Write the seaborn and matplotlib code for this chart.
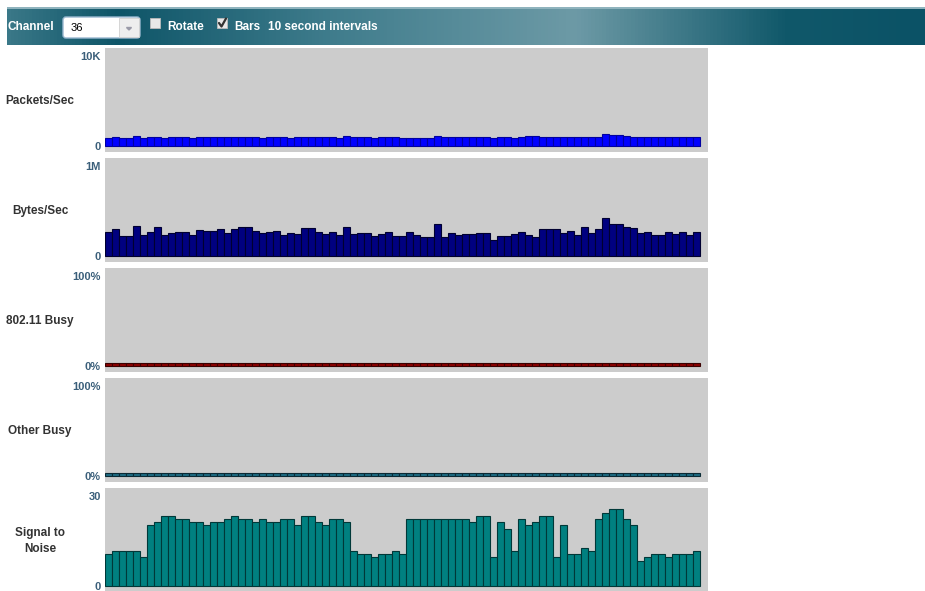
import numpy as np
import pandas as pd
import matplotlib
matplotlib.use("Agg")
import matplotlib.pyplot as plt
from matplotlib.colors import LinearSegmentedColormap
from matplotlib.patches import FancyBboxPatch, Rectangle
import seaborn as sns

# data, 85 ten-second intervals
packets = [900, 1050, 900, 900, 1150, 900, 1000, 1050, 900, 950,
           950, 950, 900, 1050, 950, 1050, 1050, 950, 1050, 1050,
           1050, 950, 900, 950, 1050, 950, 900, 950, 1050, 1050,
           950, 950, 950, 900, 1150, 950, 950, 950, 900, 1000,
           1000, 950, 900, 900, 900, 850, 900, 1150, 950, 1000,
           1000, 950, 950, 1050, 1050, 850, 1000, 1000, 900, 950,
           1100, 1100, 1000, 1050, 950, 1000, 1050, 950, 1050, 1000,
           1050, 1350, 1250, 1250, 1100, 950, 950, 950, 950, 950,
           950, 950, 950, 950, 950]
bytes_k = [263, 300, 218, 218, 330, 230, 263, 318, 237, 252,
           263, 263, 237, 285, 274, 274, 296, 252, 296, 318,
           318, 274, 252, 263, 274, 230, 252, 241, 307, 307,
           263, 241, 263, 230, 318, 241, 252, 252, 218, 241,
           263, 218, 218, 263, 230, 207, 207, 352, 207, 252,
           230, 241, 241, 252, 252, 174, 218, 218, 241, 263,
           230, 207, 296, 296, 296, 252, 274, 230, 318, 252,
           296, 418, 352, 352, 318, 307, 252, 263, 230, 230,
           263, 241, 263, 230, 263]
busy_80211 = [3] * 85
busy_other = [3] * 85
snr = [10.7, 11.7, 11.7, 11.7, 11.7, 9.7, 20.3, 21.3, 23.3, 23.3,
       22.3, 22.3, 21.3, 21.3, 20.3, 21.3, 21.3, 22.3, 23.3, 22.3,
       22.3, 21.3, 22.3, 21.3, 21.3, 22.3, 22.3, 20.3, 23.3, 23.3,
       21.3, 20.3, 22.3, 22.3, 21.3, 11.7, 10.7, 10.7, 9.7, 10.7,
       10.7, 11.7, 10.7, 22.3, 22.3, 22.3, 22.3, 22.3, 22.3, 22.3,
       22.3, 22.3, 21.3, 23.3, 23.3, 9.7, 21.3, 19.0, 11.7, 22.3,
       20.3, 21.3, 23.3, 23.3, 9.7, 20.3, 10.7, 10.7, 12.7, 11.7,
       22.3, 24.3, 25.7, 25.7, 22.3, 20.3, 8.3, 9.7, 10.7, 10.7,
       9.7, 10.7, 10.7, 10.7, 11.7]

panel_names = ["Packets/Sec", "Bytes/Sec", "802.11 Busy", "Other Busy", "Signal to\nNoise"]
panel_max = [10000, 1000, 100, 100, 30]
max_labels = ["10K", "1M", "100%", "100%", "30"]
zero_labels = ["0", "0", "0%", "0%", "0"]
series = [packets, bytes_k, busy_80211, busy_other, snr]
bar_colors = ["#0000ff", "#000080", "#8b0000", "#1d6b82", "#008080"]
edge_colors = ["#0000a0", "#000030", "#3a0000", "#0a2a35", "#003838"]

sns.set_style("white")
plt.rcParams["font.family"] = ["Liberation Sans", "DejaVu Sans"]

W, H = 925, 591
fig = plt.figure(figsize=(W / 100, H / 100), dpi=100)


def px_axes(x, y, w, h):
    return fig.add_axes([x / W, 1 - (y + h) / H, w / W, h / H])


# header bar with gradient
hdr = px_axes(7, 7, 918, 38)
cmap = LinearSegmentedColormap.from_list(
    "hdr", [(0, "#3a7888"), (0.12, "#0e5568"), (0.35, "#3f7c8c"),
            (0.62, "#6d9aa6"), (0.85, "#10586a"), (1, "#0b5266")])
hdr.imshow(np.linspace(0, 1, 256)[None, :], aspect="auto", cmap=cmap,
           extent=[0, 918, 38, 0])
hdr.set_xlim(0, 918)
hdr.set_ylim(38, 0)
hdr.axis("off")
hdr.add_patch(Rectangle((0, 0), 918, 1.5, color="#8fb3bd", lw=0))
txt = dict(color="white", fontsize=8.5, fontweight="bold", va="center")
hdr.text(0, 20, "Channel", **txt)
hdr.add_patch(FancyBboxPatch((56, 10), 77, 21, boxstyle="round,pad=0,rounding_size=3",
                             fc="white", ec="#9ab8d0", lw=1))
hdr.add_patch(Rectangle((112, 11), 20, 19, fc="#eeeeee", ec="#d0d0d0", lw=0.6))
hdr.fill([119.5, 124.5, 122], [20.5, 20.5, 23], color="#9a9aa8")
hdr.text(64, 21, "36", color="black", fontsize=8, va="center")
hdr.add_patch(Rectangle((143, 11), 10, 10, fc="#e8e8e8", ec="#bbbbbb", lw=0.6))
hdr.text(160, 20, "Rotate", **txt)
hdr.add_patch(Rectangle((210, 11), 10, 10, fc="#e8e8e8", ec="#bbbbbb", lw=0.6))
hdr.plot([212, 214.5, 219], [16, 19.5, 11.5], color="#333333", lw=1.6)
hdr.text(227, 20, "Bars", **txt)
hdr.text(261, 20, "10 second intervals", **txt)

# the five strip charts
n = len(snr)
left_px, width_px = 105, 603
for i in range(5):
    top = 48 + 110 * i
    ax = px_axes(left_px, top, width_px, 104)
    ax.set_facecolor("#cccccc")
    df = pd.DataFrame({"t": np.arange(n), "v": series[i]})
    sns.barplot(data=df, x="t", y="v", ax=ax, color=bar_colors[i],
                edgecolor=edge_colors[i], linewidth=0.8, width=1, saturation=1)
    m = panel_max[i]
    ax.set_xlim(-0.5, -0.5 + width_px / 7)
    ax.set_ylim(-m * 6 / 90, m * 104 / 90 - m * 6 / 90)
    ax.set_xticks([])
    ax.set_yticks([0, m])
    ax.set_yticklabels([zero_labels[i], max_labels[i]], fontsize=8,
                       fontweight="bold", color="#3b5f7a")
    ax.tick_params(axis="y", length=0, pad=3)
    ax.set_xlabel("")
    ax.set_ylabel("")
    for s in ax.spines.values():
        s.set_visible(False)
    fig.text(40 / W, 1 - (top + 53) / H, panel_names[i], ha="center", va="center",
             fontsize=8.5, fontweight="bold", color="#333333", linespacing=1.4)

fig.savefig("out.png", dpi=100)
